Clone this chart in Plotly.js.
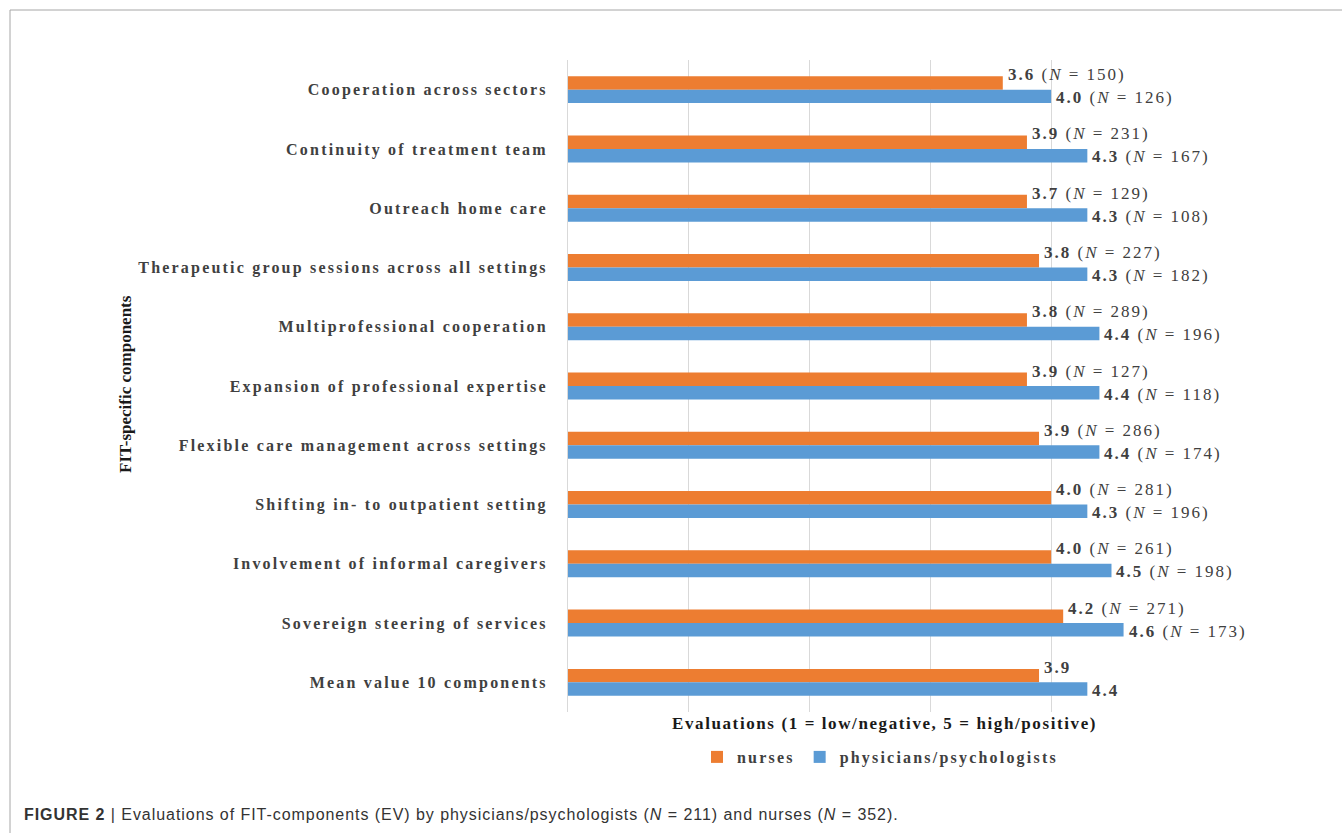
<!DOCTYPE html>
<html>
<head>
<meta charset="utf-8">
<script src="https://cdn.plot.ly/plotly-3.0.1.min.js"></script>
<style>
  html, body { margin: 0; padding: 0; background: #ffffff; }
  #chart { width: 1342px; height: 833px; }
  #chart .ytick text { letter-spacing: 2.2px; }
</style>
</head>
<body>
<div id="chart"></div>
<script>
// Categories (top to bottom)
const categories = [
  "Cooperation across sectors",
  "Continuity of treatment team",
  "Outreach home care",
  "Therapeutic group sessions across all settings",
  "Multiprofessional cooperation",
  "Expansion of professional expertise",
  "Flexible care management across settings",
  "Shifting in- to outpatient setting",
  "Involvement of informal caregivers",
  "Sovereign steering of services",
  "Mean value 10 components"
];

// Bar lengths as drawn
const nursesValues = [3.6, 3.8, 3.8, 3.9, 3.8, 3.8, 3.9, 4.0, 4.0, 4.1, 3.9];
const physiciansValues = [4.0, 4.3, 4.3, 4.3, 4.4, 4.4, 4.4, 4.3, 4.5, 4.6, 4.3];

// Printed labels
const nursesLabelMean = ["3.6", "3.9", "3.7", "3.8", "3.8", "3.9", "3.9", "4.0", "4.0", "4.2", "3.9"];
const nursesLabelN = [150, 231, 129, 227, 289, 127, 286, 281, 261, 271, null];
const physiciansLabelMean = ["4.0", "4.3", "4.3", "4.3", "4.4", "4.4", "4.4", "4.3", "4.5", "4.6", "4.4"];
const physiciansLabelN = [126, 167, 108, 182, 196, 118, 174, 196, 198, 173, null];

const seriesNames = ["nurses", "physicians/psychologists"];

function spaced(s, px) {
  return "<span style=\"letter-spacing:" + px + "px\">" + s + "</span>";
}

function makeLabels(means, ns) {
  return means.map((m, i) => spaced(ns[i] === null
    ? "<b>" + m + "</b>"
    : "<b>" + m + "</b> (<i>N</i> = " + ns[i] + ")", 2.0));
}

const serif = "Liberation Serif, Times New Roman, serif";
const textColor = "#404040";

const traces = [
  {
    type: "bar",
    orientation: "h",
    name: spaced(seriesNames[0], 2.2),
    y: categories,
    x: nursesValues,
    marker: { color: "#ED7D31" },
    hoverinfo: "x+y"
  },
  {
    type: "bar",
    orientation: "h",
    name: spaced(seriesNames[1], 2.2),
    y: categories,
    x: physiciansValues,
    marker: { color: "#5B9BD5" },
    hoverinfo: "x+y"
  }
];

// plot area: x 568..1172, y 60..712
const L = 568, R = 1172, T = 60, B = 712;
const W = 1342, H = 833;
const px = x => (x - L) / (R - L);
const py = y => (B - y) / (B - T);

// value labels placed at the bar ends (data coordinates)
function labelAnnotations(values, labels, yshift) {
  return values.map((v, i) => ({
    xref: "x", yref: "y",
    x: v, y: categories[i],
    xanchor: "left", yanchor: "middle",
    xshift: 3, yshift: yshift,
    showarrow: false,
    text: labels[i],
    font: { family: serif, size: 17, color: textColor }
  }));
}

const annotations = []
  .concat(labelAnnotations(nursesValues, makeLabels(nursesLabelMean, nursesLabelN), 15))
  .concat(labelAnnotations(physiciansValues, makeLabels(physiciansLabelMean, physiciansLabelN), -8))
  .concat([
    {
      xref: "paper", yref: "paper",
      x: px(884), y: py(723),
      xanchor: "center", yanchor: "middle",
      showarrow: false,
      text: spaced("<b>Evaluations (1 = low/negative, 5 = high/positive)</b>", 1.6),
      font: { family: serif, size: 17, color: "#1a1a1a" }
    },
    {
      xref: "paper", yref: "paper",
      x: px(125), y: py(384),
      xanchor: "center", yanchor: "middle",
      textangle: -90,
      showarrow: false,
      text: "<b>FIT-specific components</b>",
      font: { family: serif, size: 17, color: "#1a1a1a" }
    },
    {
      xref: "paper", yref: "paper",
      x: px(22), y: py(814),
      xanchor: "left", yanchor: "middle",
      showarrow: false,
      text: spaced("<b>FIGURE 2</b> | Evaluations of FIT-components (EV) by physicians/psychologists (<i>N</i> = 211) and nurses (<i>N</i> = 352).", 0.95),
      font: { family: "Liberation Sans, Arial, sans-serif", size: 16, color: "#333333" }
    }
  ]);

const layout = {
  width: W,
  height: H,
  margin: { l: L, r: W - R, t: T, b: H - B, pad: 0 },
  paper_bgcolor: "#ffffff",
  plot_bgcolor: "#ffffff",
  barmode: "group",
  bargap: 0.545,
  bargroupgap: 0,
  showlegend: true,
  font: { family: serif, color: textColor },
  xaxis: {
    range: [0, 5.001],
    dtick: 1,
    tick0: 0,
    showticklabels: false,
    ticks: "",
    showgrid: true,
    gridcolor: "#d9d9d9",
    gridwidth: 1,
    zeroline: false,
    showline: false,
    fixedrange: true
  },
  yaxis: {
    type: "category",
    categoryorder: "array",
    categoryarray: categories,
    autorange: "reversed",
    showline: true,
    linecolor: "#d9d9d9",
    linewidth: 1,
    ticks: "",
    ticklabelstandoff: 16,
    tickfont: { family: serif, size: 16, color: textColor, weight: "bold" },
    showgrid: false,
    zeroline: false,
    fixedrange: true
  },
  legend: {
    orientation: "h",
    x: px(880),
    xanchor: "center",
    y: py(740),
    yanchor: "top",
    font: { family: serif, size: 16, color: textColor, weight: "bold" },
    itemwidth: 30,
    tracegroupgap: 0
  },
  shapes: [
    { type: "line", xref: "paper", yref: "paper",
      x0: px(10), x1: px(1342), y0: py(10), y1: py(10),
      line: { color: "#a6a6a6", width: 1 } },
    { type: "line", xref: "paper", yref: "paper",
      x0: px(10), x1: px(10), y0: py(10), y1: py(833),
      line: { color: "#a6a6a6", width: 1 } }
  ],
  annotations: annotations
};

Plotly.newPlot("chart", traces, layout, { displayModeBar: false, responsive: false });
</script>
</body>
</html>
